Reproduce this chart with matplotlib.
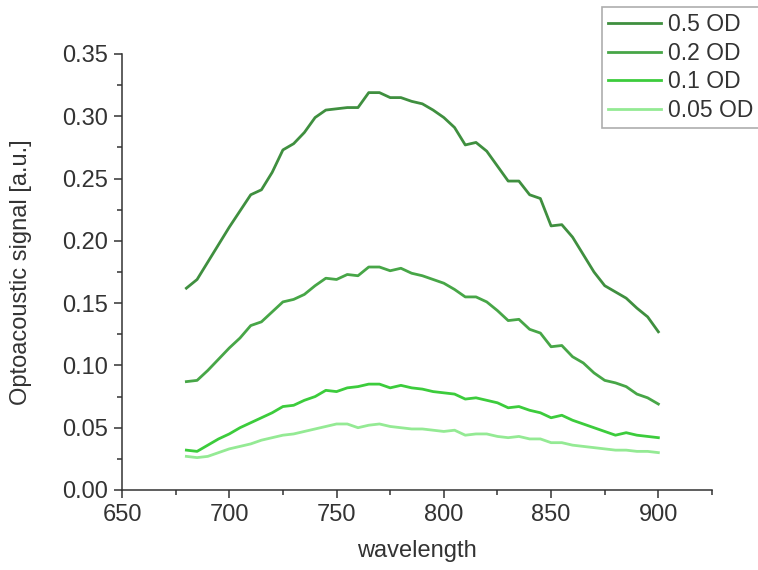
import matplotlib
matplotlib.use("Agg")
import matplotlib.pyplot as plt
from matplotlib.ticker import MultipleLocator, FormatStrFormatter

plt.rcParams['font.family'] = ['Liberation Sans', 'DejaVu Sans']

wavelength = list(range(680, 901, 5))

od_05 = [0.162, 0.169, 0.183, 0.197, 0.211, 0.224, 0.237, 0.241, 0.255, 0.273,
         0.278, 0.287, 0.299, 0.305, 0.306, 0.307, 0.307, 0.319, 0.319, 0.315,
         0.315, 0.312, 0.310, 0.305, 0.299, 0.291, 0.277, 0.279, 0.272, 0.260,
         0.248, 0.248, 0.237, 0.234, 0.212, 0.213, 0.203, 0.189, 0.175, 0.164,
         0.159, 0.154, 0.146, 0.139, 0.127]

od_02 = [0.087, 0.088, 0.096, 0.105, 0.114, 0.122, 0.132, 0.135, 0.143, 0.151,
         0.153, 0.157, 0.164, 0.170, 0.169, 0.173, 0.172, 0.179, 0.179, 0.176,
         0.178, 0.174, 0.172, 0.169, 0.166, 0.161, 0.155, 0.155, 0.151, 0.144,
         0.136, 0.137, 0.129, 0.126, 0.115, 0.116, 0.107, 0.102, 0.094, 0.088,
         0.086, 0.083, 0.077, 0.074, 0.069]

od_01 = [0.032, 0.031, 0.036, 0.041, 0.045, 0.050, 0.054, 0.058, 0.062, 0.067,
         0.068, 0.072, 0.075, 0.080, 0.079, 0.082, 0.083, 0.085, 0.085, 0.082,
         0.084, 0.082, 0.081, 0.079, 0.078, 0.077, 0.073, 0.074, 0.072, 0.070,
         0.066, 0.067, 0.064, 0.062, 0.058, 0.060, 0.056, 0.053, 0.050, 0.047,
         0.044, 0.046, 0.044, 0.043, 0.042]

od_005 = [0.027, 0.026, 0.027, 0.030, 0.033, 0.035, 0.037, 0.040, 0.042, 0.044,
          0.045, 0.047, 0.049, 0.051, 0.053, 0.053, 0.050, 0.052, 0.053, 0.051,
          0.050, 0.049, 0.049, 0.048, 0.047, 0.048, 0.044, 0.045, 0.045, 0.043,
          0.042, 0.043, 0.041, 0.041, 0.038, 0.038, 0.036, 0.035, 0.034, 0.033,
          0.032, 0.032, 0.031, 0.031, 0.030]

series = [od_05, od_02, od_01, od_005]
labels = ["0.5 OD", "0.2 OD", "0.1 OD", "0.05 OD"]
colors = ["#3f8f3f", "#47a647", "#3ccc3c", "#94ea94"]

fs = 17
txt = "#333333"

fig = plt.figure(figsize=(7.58, 5.70), dpi=100)
ax = fig.add_axes([122/758, 1-490/570, (712-122)/758, (490-54)/570])

for s, lab, c in zip(series, labels, colors):
    ax.plot(wavelength, s, color=c, lw=2.0, label=lab)

ax.set_xlim(650, 925)
ax.set_ylim(0, 0.35)
ax.xaxis.set_major_locator(MultipleLocator(50))
ax.xaxis.set_minor_locator(MultipleLocator(25))
ax.yaxis.set_major_locator(MultipleLocator(0.05))
ax.yaxis.set_minor_locator(MultipleLocator(0.025))
ax.yaxis.set_major_formatter(FormatStrFormatter('%.2f'))

for side in ['top', 'right']:
    ax.spines[side].set_visible(False)
for side in ['left', 'bottom']:
    ax.spines[side].set_linewidth(1.1)
    ax.spines[side].set_color(txt)

ax.tick_params(which='major', direction='out', length=6, width=1.1, color=txt,
               labelsize=fs, labelcolor=txt, pad=4)
ax.tick_params(which='minor', direction='out', length=3.5, width=1.1, color=txt)

ax.set_xlabel("wavelength", fontsize=fs, color=txt)
ax.set_ylabel("Optoacoustic signal [a.u.]", fontsize=fs, color=txt)
ax.xaxis.set_label_coords(0.5, -0.115)
ax.yaxis.set_label_coords(-0.153, 0.5)

leg = fig.legend(loc='upper left', bbox_to_anchor=(602/758, 1-7/570),
                 fontsize=16.5, frameon=True, fancybox=False, borderaxespad=0,
                 borderpad=0.28, labelspacing=0.24, handlelength=2.3,
                 handletextpad=0.3)
leg.get_frame().set_edgecolor("#999999")
leg.get_frame().set_linewidth(1.2)
for t in leg.get_texts():
    t.set_color(txt)

fig.savefig("out.png", dpi=100)
